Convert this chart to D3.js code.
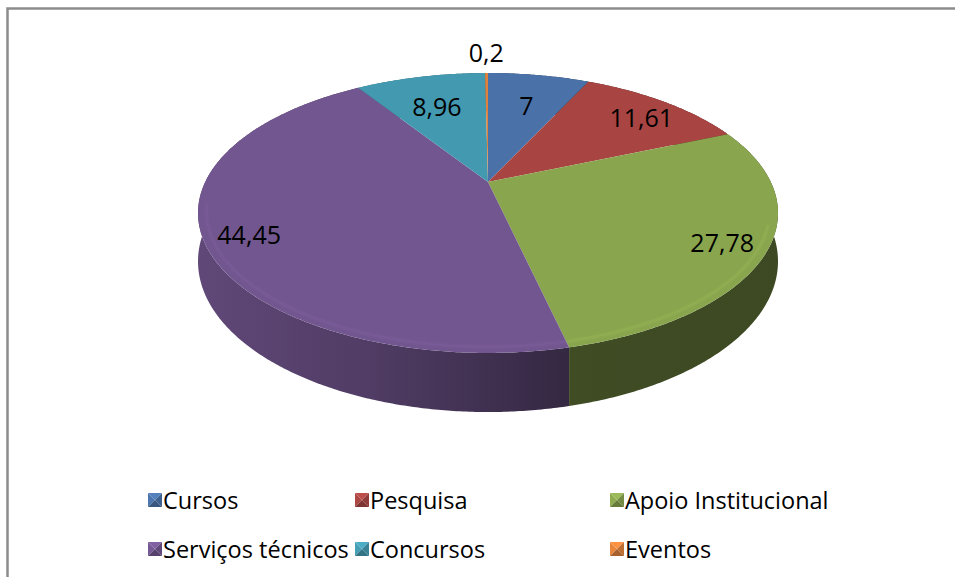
<!DOCTYPE html>
<html>
<head>
<meta charset="utf-8">
<script src="https://cdn.jsdelivr.net/npm/d3@7"></script>
<style>
  html, body { margin: 0; padding: 0; background: #fff; }
  svg { display: block; }
</style>
</head>
<body>
<div id="chart"></div>
<script>
// data
const categories = ['Cursos', 'Pesquisa', 'Apoio Institucional', 'Serviços técnicos', 'Concursos', 'Eventos']
const values = [7, 11.61, 27.78, 44.45, 8.96, 0.2]
const colors = ['#4a72a8', '#a84543', '#89a54e', '#72568f', '#4399b0', '#e0813b']

const WIDTH = 955
const HEIGHT = 577

// 3d pie geometry (perspective tilt)
const pie3d = {
  cx: 488,
  cy: 182,
  rx: 282.8,   // horizontal radius at depth 0
  ry: 133.1,   // vertical radius at depth 0
  persp: 0.2214,
  depth: 46,
}

const locale = d3.formatLocale({decimal: ',', thousands: '.', grouping: [3], currency: ['', '']})
const fmt = locale.format('.4~r')

const svg = d3.select('#chart')
  .append('svg')
  .attr('width', WIDTH)
  .attr('height', HEIGHT)

const defs = svg.append('defs')
defs.append('filter')
  .attr('id', 'soft')
  .attr('x', '-10%').attr('y', '-10%').attr('width', '120%').attr('height', '120%')
  .append('feGaussianBlur')
  .attr('stdDeviation', 1.2)

// chart border (only top and left visible in the crop)
svg.append('path')
  .attr('d', `M7.5,${HEIGHT} V8.5 H${WIDTH}`)
  .attr('fill', 'none')
  .attr('stroke', '#8c8c8c')
  .attr('stroke-width', 2.5)

// project a point of the disk: r in [0,1], a = angle from 12 o'clock clockwise
function project (r, a, down) {
  const x = r * Math.sin(a)
  const z = -r * Math.cos(a)
  const w = 1 - pie3d.persp * z
  return [
    pie3d.cx + pie3d.rx * x / w,
    pie3d.cy + (pie3d.ry * z + (down ? pie3d.depth : 0)) / w,
  ]
}

function arcPoints (a0, a1, r, down) {
  const n = Math.max(2, Math.ceil(Math.abs(a1 - a0) / (Math.PI / 360)))
  return d3.range(n + 1).map(i => project(r, a0 + (a1 - a0) * i / n, down))
}

const line = d3.line()

const arcs = d3.pie().sort(null).value(d => d)(values)
  .map((d, i) => Object.assign(d, {name: categories[i], color: colors[i]}))

// side walls, back first
const walls = svg.append('g').attr('class', 'walls')
const leftX = pie3d.cx - pie3d.rx * 1.03
const rightX = pie3d.cx + pie3d.rx * 1.03
const shadeStops = [[0, 0.84], [0.3, 0.7], [0.64, 0.46], [1, 0.44]]

arcs.forEach((d, i) => {
  const base = d3.rgb(d.color)
  const g = defs.append('linearGradient')
    .attr('id', `wall-${i}`)
    .attr('gradientUnits', 'userSpaceOnUse')
    .attr('x1', leftX).attr('x2', rightX)
    .attr('y1', 0).attr('y2', 0)
  shadeStops.forEach(([o, k]) => {
    g.append('stop')
      .attr('offset', o)
      .attr('stop-color', d3.rgb(base.r * k, base.g * k, base.b * k).formatHex())
  })
})

const byDepth = arcs.slice().sort((a, b) =>
  -Math.cos((a.startAngle + a.endAngle) / 2) - -Math.cos((b.startAngle + b.endAngle) / 2))

walls.selectAll('path')
  .data(byDepth)
  .join('path')
  .attr('d', d => {
    const top = arcPoints(d.startAngle, d.endAngle, 1, false)
    const bottom = arcPoints(d.endAngle, d.startAngle, 1, true)
    return line(top.concat(bottom)) + 'Z'
  })
  .attr('fill', d => `url(#wall-${d.index})`)

// top faces
const tops = svg.append('g').attr('class', 'tops')
tops.selectAll('path')
  .data(arcs)
  .join('path')
  .attr('d', d => line([[pie3d.cx, pie3d.cy]].concat(arcPoints(d.startAngle, d.endAngle, 1, false))) + 'Z')
  .attr('fill', d => d.color)

// bevel highlight along the front rim
const frontA0 = Math.PI * 0.6
const frontA1 = Math.PI * 1.45
tops.selectAll('path.rim')
  .data(arcs.filter(d => d.endAngle > frontA0 && d.startAngle < frontA1))
  .join('path')
  .attr('class', 'rim')
  .attr('d', d => line(arcPoints(Math.max(d.startAngle, frontA0), Math.min(d.endAngle, frontA1), 0.972, false)))
  .attr('fill', 'none')
  .attr('stroke', d => d3.color(d.color).brighter(0.4))
  .attr('stroke-width', 2)
  .attr('stroke-opacity', 0.55)
  .attr('filter', 'url(#soft)')

// data labels
const labelFont = '"Open Sans", sans-serif'
svg.append('g').attr('class', 'labels')
  .selectAll('text')
  .data(arcs)
  .join('text')
  .attr('transform', d => {
    const r = d.value < 1 ? 1.3 : d.value < 10 ? 0.72 : 0.85
    const [x, y] = project(r, (d.startAngle + d.endAngle) / 2, false)
    return `translate(${x},${y + 4})`
  })
  .attr('text-anchor', 'middle')
  .attr('dominant-baseline', 'central')
  .style('font-family', labelFont)
  .style('font-size', '25px')
  .style('fill', '#000')
  .text(d => fmt(d.value))

// legend
const legendCols = [148, 355, 610]
const legendRows = [500, 549]
const box = 14

const legend = svg.append('g').attr('class', 'legend')
  .selectAll('g')
  .data(arcs)
  .join('g')
  .attr('transform', (d, i) => `translate(${legendCols[i % 3]},${legendRows[Math.floor(i / 3)]})`)

legend.each(function (d) {
  const g = d3.select(this)
  const c = d3.color(d.color)
  const h = box / 2
  const faces = [
    [[0, -h], [box, -h], [h, 0], c.brighter(0.35)],
    [[0, -h], [0, h], [h, 0], c.brighter(0.1)],
    [[box, -h], [box, h], [h, 0], c.darker(0.45)],
    [[0, h], [box, h], [h, 0], c.darker(0.8)],
  ]
  faces.forEach(([p1, p2, p3, col]) => {
    g.append('path')
      .attr('d', line([p1, p2, p3]) + 'Z')
      .attr('fill', col)
  })
})

legend.append('text')
  .attr('x', 15)
  .attr('y', 0)
  .attr('dominant-baseline', 'central')
  .style('font-family', labelFont)
  .style('font-size', '23.5px')
  .style('fill', '#000')
  .text(d => d.name)
</script>
</body>
</html>
